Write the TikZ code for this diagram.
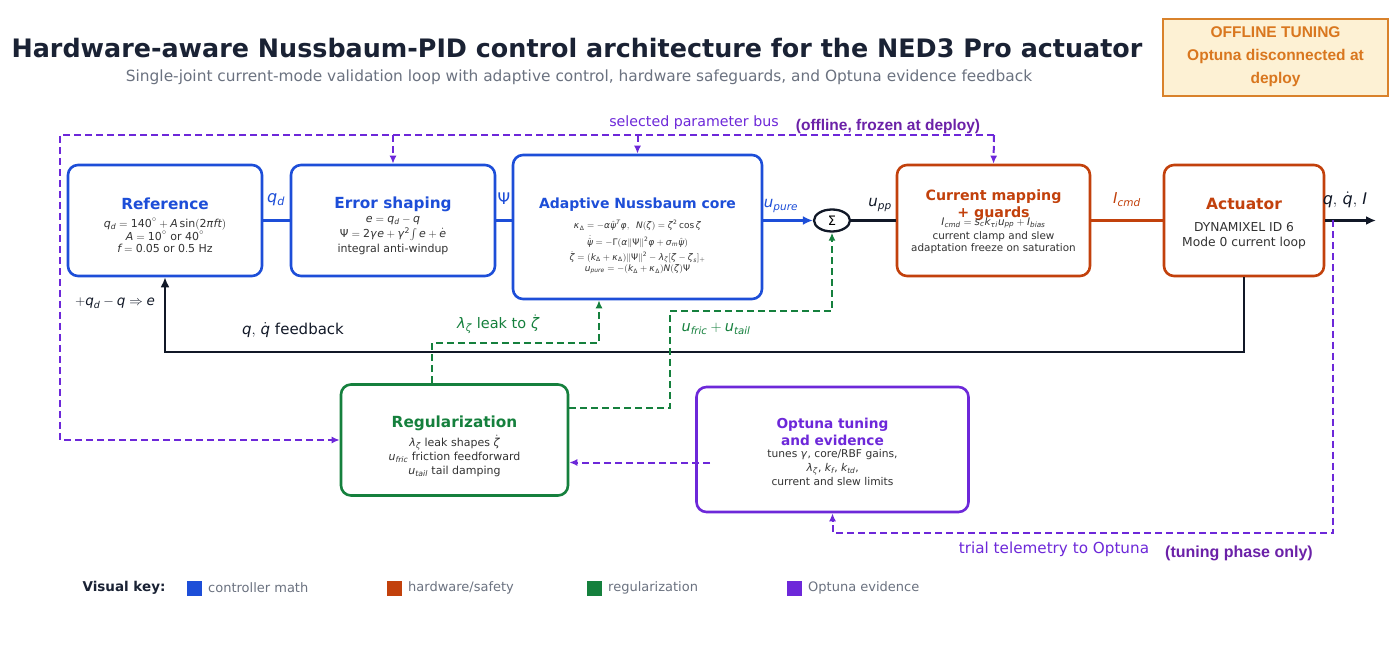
\RequirePackage{fix-cm}
\documentclass[tikz,border=0pt]{standalone}
\usepackage{amsmath}
\usepackage{mathspec}
\setmainfont{DejaVu Sans}
\setmathsfont(Digits,Latin,Greek){DejaVu Sans}
\setmathrm{DejaVu Sans}
\newfontfamily\arialf{Liberation Sans}
\usetikzlibrary{arrows.meta,shapes.geometric}
\newcommand{\fsz}[2]{\fontsize{#1}{#2}\selectfont}
\definecolor{cblue}{HTML}{1D4ED8}
\definecolor{corange}{HTML}{C2410C}
\definecolor{cgreen}{HTML}{15803D}
\definecolor{cpurple}{HTML}{6D28D9}
\definecolor{cdpurple}{HTML}{6B21A8}
\definecolor{cdark}{HTML}{111827}
\definecolor{ctitle}{HTML}{1A2234}
\definecolor{cgray}{HTML}{6B7280}
\definecolor{cbody}{HTML}{333333}
\definecolor{offfill}{HTML}{FDF1D4}
\definecolor{offdraw}{HTML}{D9822B}
\definecolor{offtext}{HTML}{D9771F}
\begin{document}
\begin{tikzpicture}[x=1pt,y=-1pt,
  blk/.style={draw, rounded corners=10pt, line width=2.6pt, fill=white, inner sep=0pt},
  ttl/.style={inner sep=0pt, align=center, font={\bfseries\fsz{#1}{#1}}},
  bod/.style={inner sep=0pt, text=cbody, align=center},
  lbl/.style={inner sep=0pt},
  flow/.style={line width=2.4pt},
  dsh/.style={line width=2pt, dash pattern=on 7pt off 4pt},
  tip/.style={-{Latex[length=10pt,width=9pt]}},
  stip/.style={-{Latex[length=8pt,width=7pt]}},
  keysq/.style={minimum size=15pt, inner sep=0pt},
  keytx/.style={anchor=west, inner sep=0pt, text=cgray, font=\fsz{13}{13}}
]
\fill[white] (0,0) rectangle (1400,668);
\useasboundingbox (0,0) rectangle (1400,668);

% title
\node[lbl, text=ctitle, font={\bfseries\fsz{25.4}{25.4}}] (title) at (577,48) {Hardware-aware Nussbaum-PID control architecture for the NED3 Pro actuator};
\node[lbl, text=cgray, font=\fsz{15.4}{15.4}] (subtitle) at (579,77) {Single-joint current-mode validation loop with adaptive control, hardware safeguards, and Optuna evidence feedback};

% offline box
\node[draw=offdraw, fill=offfill, line width=2.4pt, minimum width=225pt, minimum height=77pt, inner sep=0pt] (off) at (1275.5,57.5) {};
\node[lbl, text=offtext, align=center, font={\arialf\bfseries\fsz{15.5}{23}}] (offT) at (1275.5,57) {OFFLINE TUNING\\Optuna disconnected at\\deploy};

% boxes
\node[blk, draw=cblue, minimum width=194pt, minimum height=111pt] (ref) at (165,220.5) {};
\node[blk, draw=cblue, minimum width=204pt, minimum height=111pt] (err) at (393,220.5) {};
\node[blk, draw=cblue, minimum width=249pt, minimum height=144pt] (core) at (637.5,227) {};
\node[draw=cdark, line width=2.3pt, ellipse, minimum width=36pt, minimum height=22pt, inner sep=0pt, fill=white, font=\fsz{13}{13}] (sum) at (832,220.5) {$\Sigma$};
\node[blk, draw=corange, minimum width=193pt, minimum height=111pt] (cur) at (993.5,220.5) {};
\node[blk, draw=corange, minimum width=160pt, minimum height=111pt] (act) at (1244,220.5) {};
\node[blk, draw=cgreen, minimum width=227pt, minimum height=111pt] (reg) at (454.5,440) {};
\node[blk, draw=cpurple, minimum width=272pt, minimum height=125pt] (opt) at (832.5,449.5) {};

% box texts
\node[ttl=15.3, text=cblue] (refT) at (165,204) {Reference};
\node[bod, font=\fsz{11}{12}] (refB) at (165,235) {$q_d = 140^\circ + A\sin(2\pi f t)$\\$A = 10^\circ$ or $40^\circ$\\$f = 0.05$ or $0.5$ Hz};
\node[ttl=15.3, text=cblue] (errT) at (393,204) {Error shaping};
\node[bod, font=\fsz{11}{15}] (errB) at (393,235) {$e = q_d - q$\\$\Psi = 2\gamma e + \gamma^2\!\int e + \dot e$\\integral anti-windup};
\node[ttl=14, text=cblue] (coreT) at (637.5,205) {Adaptive Nussbaum core};
\node[bod, font=\fsz{9}{9}] (c1) at (637.5,225.5) {$\kappa_\Delta = -\alpha\hat{\psi}^T\phi,\;\; N(\zeta) = \zeta^2\cos\zeta$};
\node[bod, font=\fsz{9}{9}] (c2) at (637.5,241.5) {$\dot{\hat{\psi}} = -\Gamma(\alpha\|\Psi\|^2\phi + \sigma_m\hat{\psi})$};
\node[bod, font=\fsz{9}{9}] (c3) at (637.5,257) {$\dot{\zeta} = (k_\Delta + \kappa_\Delta)\|\Psi\|^2 - \lambda_\zeta[\zeta - \zeta_s]_+$};
\node[bod, font=\fsz{9}{9}] (c4) at (637.5,269.5) {$u_{pure} = -(k_\Delta + \kappa_\Delta)N(\zeta)\Psi$};
\node[ttl=14.2, text=corange, font={\bfseries\fsz{14.2}{17}}] (curT) at (993.5,205) {Current mapping\\+ guards};
\node[bod, font=\fsz{10.4}{10.4}] (curF) at (993.5,223) {$I_{cmd} = s_c k_{\tau i} u_{pp} + I_{bias}$};
\node[bod, font=\fsz{10.4}{12}] (curB) at (993.5,243) {current clamp and slew\\adaptation freeze on saturation};
\node[ttl=15.5, text=corange] (actT) at (1244,203.5) {Actuator};
\node[bod, font=\fsz{12.3}{14.5}] (actB) at (1244,235.5) {DYNAMIXEL ID 6\\Mode 0 current loop};
\node[ttl=15.3, text=cgreen] (regT) at (454.5,423) {Regularization};
\node[bod, font=\fsz{11}{14}] (regB) at (454.5,456) {$\lambda_\zeta$ leak shapes $\dot\zeta$\\$u_{fric}$ friction feedforward\\$u_{tail}$ tail damping};
\node[ttl=13.7, text=cpurple, font={\bfseries\fsz{13.7}{16.7}}] (optT) at (832.5,431.7) {Optuna tuning\\and evidence};
\node[bod, font=\fsz{10.7}{13.7}] (optB) at (832.5,467.5) {tunes $\gamma$, core/RBF gains,\\$\lambda_\zeta$, $k_f$, $k_{td}$,\\current and slew limits};

% main flow
\draw[flow, cblue] (ref.east) -- (err.west);
\draw[flow, cblue] (err.east) -- (err.east -| core.west);
\draw[flow, cblue, tip] (err.east -| core.east) -- (sum.west);
\draw[flow, cdark] (sum.east) -- (cur.west);
\draw[flow, corange] (cur.east) -- (act.west);
\coordinate (out) at (1376,220.5);
\draw[flow, cdark, tip] (act.east) -- (out);

% feedback
\coordinate (fb) at (1244,352);
\draw[flow, cdark, tip] (act.south) -- (fb) -| (ref.south);

% flow labels
\node[lbl, text=cblue, font=\fsz{16}{16}] (qdL) at (276,200) {$q_d$};
\node[lbl, text=cblue, font=\fsz{16}{16}] (psiL) at (504,199) {$\Psi$};
\node[lbl, text=cblue, font=\fsz{15}{15}] (upL) at (781,206) {$u_{pure}$};
\node[lbl, text=cdark, font=\fsz{15}{15}] (uppL) at (880,205) {$u_{pp}$};
\node[lbl, text=corange, font=\fsz{15}{15}] (icL) at (1127,200) {$I_{cmd}$};
\node[lbl, text=cdark, font=\fsz{16}{16}] (outL) at (1345,200) {$q,\,\dot q,\,I$};
\node[lbl, text=cdark, font=\fsz{15}{15}] (fbL) at (293,330) {$q,\,\dot q$ feedback};
\node[lbl, text=cdark, font=\fsz{13.5}{13.5}] (eL) at (115,303) {$+q_d - q \Rightarrow e$};

% parameter bus
\coordinate (busL) at (60,135);
\coordinate (busR) at (994,135);
\coordinate (busB) at (60,440);
\draw[dsh, cpurple, stip] (busR) -- (busL) -- (busB) -- (reg.west);
\draw[dsh, cpurple, stip] (busR) -- (cur.north);
\draw[dsh, cpurple, stip] (err.north |- busL) -- (err.north);
\draw[dsh, cpurple, stip] (core.north |- busL) -- (core.north);
\node[lbl, text=cpurple, font=\fsz{14.2}{14.2}] (busT) at (694,123) {selected parameter bus};
\node[lbl, text=cdpurple, font={\arialf\bfseries\fsz{15.5}{15.5}}] (busN) at (888,126) {(offline, frozen at deploy)};

% regularization paths
\coordinate (gA) at (432,343);
\coordinate (gB) at (599,343);
\draw[dsh, cgreen, stip] (reg.north -| gA) -- (gA) -- (gB) -- (core.south -| gB);
\coordinate (gC) at (670,408);
\coordinate (gD) at (670,311);
\draw[dsh, cgreen, stip] (reg.east |- gC) -- (gC) -- (gD) -| (sum.south);
\node[lbl, text=cgreen, font=\fsz{14.5}{14.5}] (lamL) at (498,324) {$\lambda_\zeta$ leak to $\dot\zeta$};
\node[lbl, text=cgreen, font=\fsz{14.5}{14.5}] (ufL) at (716,329) {$u_{fric} + u_{tail}$};

% optuna to regularization
\coordinate (oS) at (710,462.5);
\draw[dsh, cpurple, stip] (oS) -- (reg.east |- oS);

% telemetry
\coordinate (tA) at (1333,220.5);
\coordinate (tB) at (1333,533);
\draw[dsh, cpurple, stip] (tA) -- (tB) -| (opt.south);
\node[lbl, text=cpurple, font=\fsz{15.2}{15.2}] (telT) at (1054,549) {trial telemetry to Optuna};
\node[lbl, text=cdpurple, font={\arialf\bfseries\fsz{16}{16}}] (telN) at (1239,553) {(tuning phase only)};

% legend
\node[lbl, text=ctitle, font={\bfseries\fsz{13.5}{13.5}}] (keyT) at (124,588) {Visual key:};
\node[keysq, fill=cblue] (k1) at (194.5,588.5) {};
\node[keytx] (k1t) at (208,588) {controller math};
\node[keysq, fill=corange] (k2) at (394.5,588.5) {};
\node[keytx] (k2t) at (408,588) {hardware/safety};
\node[keysq, fill=cgreen] (k3) at (594.5,588.5) {};
\node[keytx] (k3t) at (608,588) {regularization};
\node[keysq, fill=cpurple] (k4) at (794.5,588.5) {};
\node[keytx] (k4t) at (808,588) {Optuna evidence};
\end{tikzpicture}
\end{document}
